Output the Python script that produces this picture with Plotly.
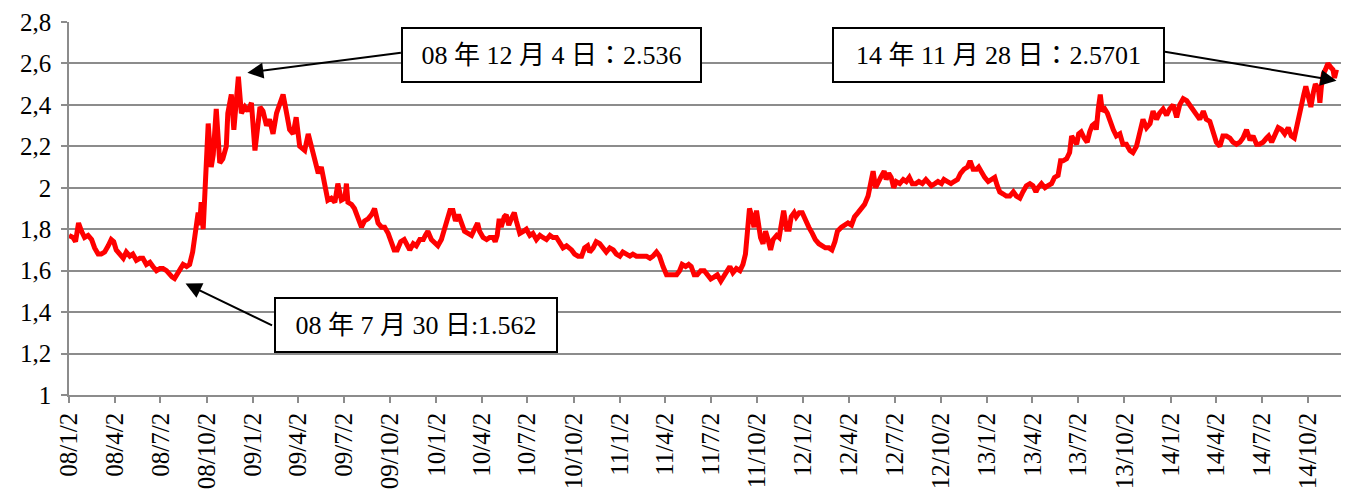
import datetime as dt
import plotly.graph_objects as go

# ---------------- data ----------------
start_date = dt.date(2008, 1, 2)

day_offsets = [
    0, 8, 13, 19, 25, 31, 38, 45, 51, 58, 64, 71, 78, 84, 89, 94, 101, 108, 114, 121,
    127, 134, 141, 147, 154, 161, 167, 174, 181, 187, 194, 200, 205, 210, 220, 227, 234, 240,
    246, 250, 253, 257, 260, 263, 267, 270, 273, 277, 283, 287, 293, 300, 306, 313, 316, 323,
    328, 333, 337, 343, 350, 356, 363, 370, 380, 386, 393, 399, 406, 413, 419, 426, 433, 439,
    446, 452, 459, 469, 476, 482, 489, 496, 502, 509, 515, 522, 529, 535, 542, 549, 552, 555,
    562, 568, 575, 582, 588, 595, 602, 608, 615, 622, 628, 635, 641, 647, 653, 660, 667, 673,
    678, 685, 691, 698, 705, 709, 714, 721, 728, 734, 741, 748, 753, 758, 764, 769, 775, 781,
    787, 794, 801, 807, 813, 817, 824, 831, 837, 844, 848, 852, 856, 860, 866, 870, 875, 880,
    886, 890, 897, 904, 910, 917, 923, 930, 937, 943, 950, 957, 963, 970, 976, 983, 990, 1000,
    1006, 1013, 1020, 1026, 1032, 1036, 1043, 1049, 1056, 1063, 1069, 1076, 1083, 1089, 1096,
    1102, 1109, 1116, 1122, 1129, 1136, 1142, 1149, 1156, 1162, 1169, 1175, 1182, 1189, 1195,
    1202, 1209, 1215, 1220, 1227, 1233, 1238, 1244, 1250, 1257, 1264, 1270, 1277, 1284, 1290,
    1297, 1303, 1310, 1315, 1321, 1328, 1335, 1341, 1346, 1350, 1354, 1359, 1363, 1368, 1371,
    1376, 1381, 1386, 1391, 1396, 1401, 1408, 1413, 1418, 1422, 1428, 1433, 1437, 1443, 1447,
    1453, 1459, 1465, 1472, 1479, 1485, 1492, 1498, 1505, 1512, 1518, 1524, 1529, 1537, 1544,
    1550, 1557, 1563, 1570, 1577, 1583, 1590, 1595, 1600, 1605, 1610, 1615, 1622, 1626, 1631,
    1636, 1641, 1646, 1653, 1660, 1666, 1672, 1678, 1685, 1691, 1698, 1705, 1716, 1723, 1729,
    1736, 1741, 1748, 1755, 1761, 1768, 1774, 1781, 1788, 1793, 1799, 1806, 1810, 1816, 1822,
    1829, 1835, 1842, 1847, 1852, 1859, 1865, 1872, 1879, 1885, 1892, 1898, 1905, 1912, 1918,
    1924, 1928, 1935, 1942, 1948, 1955, 1961, 1968, 1973, 1978, 1985, 1991, 1995, 2000, 2005,
    2009, 2014, 2020, 2026, 2031, 2036, 2041, 2044, 2048, 2052, 2056, 2061, 2066, 2071, 2078,
    2084, 2091, 2097, 2104, 2111, 2117, 2124, 2131, 2137, 2144, 2151, 2157, 2164, 2170, 2177,
    2184, 2190, 2197, 2204, 2210, 2217, 2224, 2230, 2237, 2243, 2250, 2257, 2263, 2270, 2277,
    2283, 2290, 2296, 2303, 2310, 2316, 2323, 2330, 2336, 2343, 2350, 2356, 2363, 2369, 2376,
    2383, 2387, 2393, 2399, 2406, 2413, 2419, 2426, 2432, 2438, 2442, 2448, 2452, 2457, 2461,
    2466, 2471, 2476, 2480, 2486, 2489, 2492, 2496, 2500, 2505, 2511, 2515, 2518, 2522,
]

rates = [
    1.77, 1.76, 1.74, 1.83, 1.79, 1.76, 1.77, 1.75, 1.71, 1.68, 1.68, 1.69, 1.72, 1.75, 1.74, 1.70, 1.68, 1.66, 1.69, 1.67,
    1.68, 1.65, 1.66, 1.66, 1.63, 1.64, 1.62, 1.60, 1.61, 1.61, 1.60, 1.58, 1.57, 1.562, 1.60, 1.63, 1.62, 1.63,
    1.69, 1.77, 1.82, 1.88, 1.82, 1.93, 1.80, 1.96, 2.11, 2.31, 2.10, 2.16, 2.38, 2.12, 2.14, 2.20, 2.36, 2.45,
    2.28, 2.42, 2.536, 2.36, 2.39, 2.37, 2.41, 2.18, 2.39, 2.37, 2.30, 2.33, 2.26, 2.36, 2.41, 2.45, 2.36, 2.28,
    2.26, 2.34, 2.20, 2.18, 2.26, 2.20, 2.12, 2.07, 2.10, 2.00, 1.94, 1.95, 1.93, 2.02, 1.94, 1.95, 2.02, 1.93,
    1.92, 1.90, 1.85, 1.81, 1.84, 1.85, 1.87, 1.90, 1.83, 1.81, 1.81, 1.78, 1.74, 1.70, 1.70, 1.74, 1.75, 1.72,
    1.70, 1.73, 1.72, 1.75, 1.75, 1.77, 1.79, 1.75, 1.73, 1.72, 1.75, 1.80, 1.85, 1.89, 1.89, 1.84, 1.87, 1.82,
    1.79, 1.78, 1.77, 1.80, 1.83, 1.79, 1.76, 1.75, 1.76, 1.76, 1.74, 1.77, 1.85, 1.81, 1.86, 1.87, 1.82, 1.85,
    1.88, 1.84, 1.78, 1.79, 1.80, 1.77, 1.78, 1.75, 1.77, 1.76, 1.75, 1.77, 1.76, 1.76, 1.74, 1.71, 1.72, 1.70,
    1.68, 1.67, 1.67, 1.71, 1.72, 1.69, 1.71, 1.74, 1.73, 1.71, 1.69, 1.71, 1.70, 1.68, 1.67,
    1.69, 1.68, 1.67, 1.68, 1.67, 1.67, 1.67, 1.67, 1.66, 1.67, 1.69, 1.67, 1.62, 1.58, 1.58,
    1.58, 1.58, 1.60, 1.63, 1.62, 1.63, 1.62, 1.58, 1.58, 1.60, 1.60, 1.58, 1.56, 1.57, 1.58,
    1.55, 1.57, 1.60, 1.62, 1.59, 1.61, 1.60, 1.63, 1.68, 1.77, 1.90, 1.86, 1.81, 1.89, 1.84,
    1.76, 1.73, 1.79, 1.75, 1.70, 1.75, 1.77, 1.76, 1.83, 1.89, 1.80, 1.80, 1.86, 1.88, 1.86,
    1.88, 1.88, 1.84, 1.81, 1.78, 1.75, 1.73, 1.72, 1.71, 1.71, 1.70, 1.74, 1.79, 1.81, 1.82,
    1.83, 1.82, 1.86, 1.88, 1.90, 1.92, 1.96, 2.02, 2.08, 2.00, 2.02, 2.05, 2.08, 2.04, 2.07,
    2.05, 2.00, 2.03, 2.02, 2.04, 2.03, 2.05, 2.02, 2.02, 2.03, 2.02, 2.04, 2.01, 2.02, 2.03,
    2.02, 2.04, 2.03, 2.02, 2.03, 2.04, 2.07, 2.09, 2.10, 2.13, 2.09, 2.09, 2.10, 2.07, 2.05,
    2.03, 2.04, 2.05, 2.01, 1.98, 1.97, 1.96, 1.96, 1.98, 1.96, 1.95, 1.98, 2.01, 2.02, 2.01,
    1.98, 2.00, 2.02, 2.00, 2.01, 2.02, 2.05, 2.06, 2.13, 2.13, 2.14, 2.17, 2.25, 2.23, 2.21,
    2.26, 2.27, 2.24, 2.22, 2.27, 2.30, 2.31, 2.28, 2.38, 2.45, 2.37, 2.38, 2.36, 2.32, 2.28,
    2.25, 2.26, 2.21, 2.21, 2.18, 2.17, 2.20, 2.28, 2.33, 2.29, 2.31, 2.37, 2.33, 2.36, 2.38,
    2.35, 2.38, 2.40, 2.34, 2.40, 2.43, 2.42, 2.40, 2.37, 2.36, 2.33, 2.37, 2.33, 2.32, 2.27,
    2.22, 2.20, 2.25, 2.25, 2.24, 2.22, 2.21, 2.22, 2.24, 2.28, 2.23, 2.25, 2.21, 2.21, 2.22,
    2.24, 2.25, 2.22, 2.25, 2.29, 2.28, 2.26, 2.29, 2.25, 2.24, 2.29, 2.35, 2.40, 2.45, 2.49,
    2.43, 2.39, 2.46, 2.50, 2.48, 2.41, 2.49, 2.55, 2.57, 2.60, 2.58, 2.57, 2.53, 2.5701,
]

tick_dates = [
    "2008-01-02", "2008-04-02", "2008-07-02", "2008-10-02",
    "2009-01-02", "2009-04-02", "2009-07-02", "2009-10-02",
    "2010-01-02", "2010-04-02", "2010-07-02", "2010-10-02",
    "2011-01-02", "2011-04-02", "2011-07-02", "2011-10-02",
    "2012-01-02", "2012-04-02", "2012-07-02", "2012-10-02",
    "2013-01-02", "2013-04-02", "2013-07-02", "2013-10-02",
    "2014-01-02", "2014-04-02", "2014-07-02", "2014-10-02",
]
tick_labels = [
    "08/1/2", "08/4/2", "08/7/2", "08/10/2",
    "09/1/2", "09/4/2", "09/7/2", "09/10/2",
    "10/1/2", "10/4/2", "10/7/2", "10/10/2",
    "11/1/2", "11/4/2", "11/7/2", "11/10/2",
    "12/1/2", "12/4/2", "12/7/2", "12/10/2",
    "13/1/2", "13/4/2", "13/7/2", "13/10/2",
    "14/1/2", "14/4/2", "14/7/2", "14/10/2",
]
y_ticks = [1.0, 1.2, 1.4, 1.6, 1.8, 2.0, 2.2, 2.4, 2.6, 2.8]
y_labels = ["1", "1,2", "1,4", "1,6", "1,8", "2", "2,2", "2,4", "2,6", "2,8"]

# annotated points: (date, value, label)
note_dates = ["2008-12-04", "2014-11-28", "2008-07-30"]
note_values = [2.536, 2.5701, 1.562]
note_texts = ["08 年 12 月 4 日：2.536", "14 年 11 月 28 日：2.5701", "08 年 7 月 30 日:1.562"]

x_range = ["2008-01-02", "2014-12-07"]
y_range = [1.0, 2.8]

# ---------------- figure ----------------
dates = [start_date + dt.timedelta(days=d) for d in day_offsets]

fig = go.Figure()
fig.add_trace(go.Scatter(
    x=dates, y=rates, mode="lines",
    line=dict(color="#FF0000", width=5),
    hoverinfo="x+y", showlegend=False,
))

axis_font = dict(family="'Liberation Serif', serif", size=25, color="#000000")
grey = "#8C8C8C"

fig.update_xaxes(
    type="date", range=x_range,
    tickmode="array", tickvals=tick_dates, ticktext=tick_labels,
    tickangle=-90, tickfont=axis_font,
    showgrid=False, zeroline=False,
    showline=True, linecolor=grey, linewidth=1.5,
    ticks="outside", ticklen=6, tickcolor=grey, tickwidth=1.5,
)
fig.update_yaxes(
    range=y_range,
    tickmode="array", tickvals=y_ticks, ticktext=y_labels,
    tickfont=axis_font,
    showgrid=True, gridcolor=grey, gridwidth=1.5, zeroline=False,
    showline=True, linecolor=grey, linewidth=1.5,
    ticks="outside", ticklen=6, tickcolor=grey, tickwidth=1.5,
    ticklabelstandoff=5,
)

note_font = dict(family="'Liberation Serif', 'Noto Sans CJK JP', serif", size=26, color="#000000")

# text boxes (paper positions) and arrows (anchored to the data points)
box_pos = [(0.3793, 0.9115, 297), (0.7307, 0.9115, 329), (0.2728, 0.1885, 280)]
arrow_cfg = [  # ax, ay (tail offset px), xshift, yshift
    (154, -20, 9, 4),
    (-172, -29, 0, -11),
    (87, 42, 11, -5),
]
annotations = []
for (bx, by, bw), txt in zip(box_pos, note_texts):
    annotations.append(dict(
        xref="paper", yref="paper", x=bx, y=by, xanchor="center", yanchor="middle",
        text=txt, showarrow=False, font=note_font,
        bgcolor="#FFFFFF", bordercolor="#000000", borderwidth=2, borderpad=0,
        width=bw, height=52, align="center", valign="middle",
    ))
for d, v, (ax, ay, xs, ys) in zip(note_dates, note_values, arrow_cfg):
    annotations.append(dict(
        xref="x", yref="y", x=d, y=v, text="", showarrow=True,
        ax=ax, ay=ay, axref="pixel", ayref="pixel",
        arrowhead=2, arrowsize=1.6, arrowwidth=2, arrowcolor="#000000",
        xshift=xs, yshift=ys, borderpad=0,
    ))

fig.update_layout(
    width=1347, height=499,
    margin=dict(l=69, r=6, t=22, b=104, autoexpand=False),
    paper_bgcolor="#FFFFFF", plot_bgcolor="#FFFFFF",
    annotations=annotations,
    font=dict(family="'Liberation Serif', serif", color="#000000"),
)

fig.write_html(
    "out.html",
    config={"displayModeBar": False},
    post_script="document.body.style.margin='0px';document.body.style.overflow='hidden';",
)
